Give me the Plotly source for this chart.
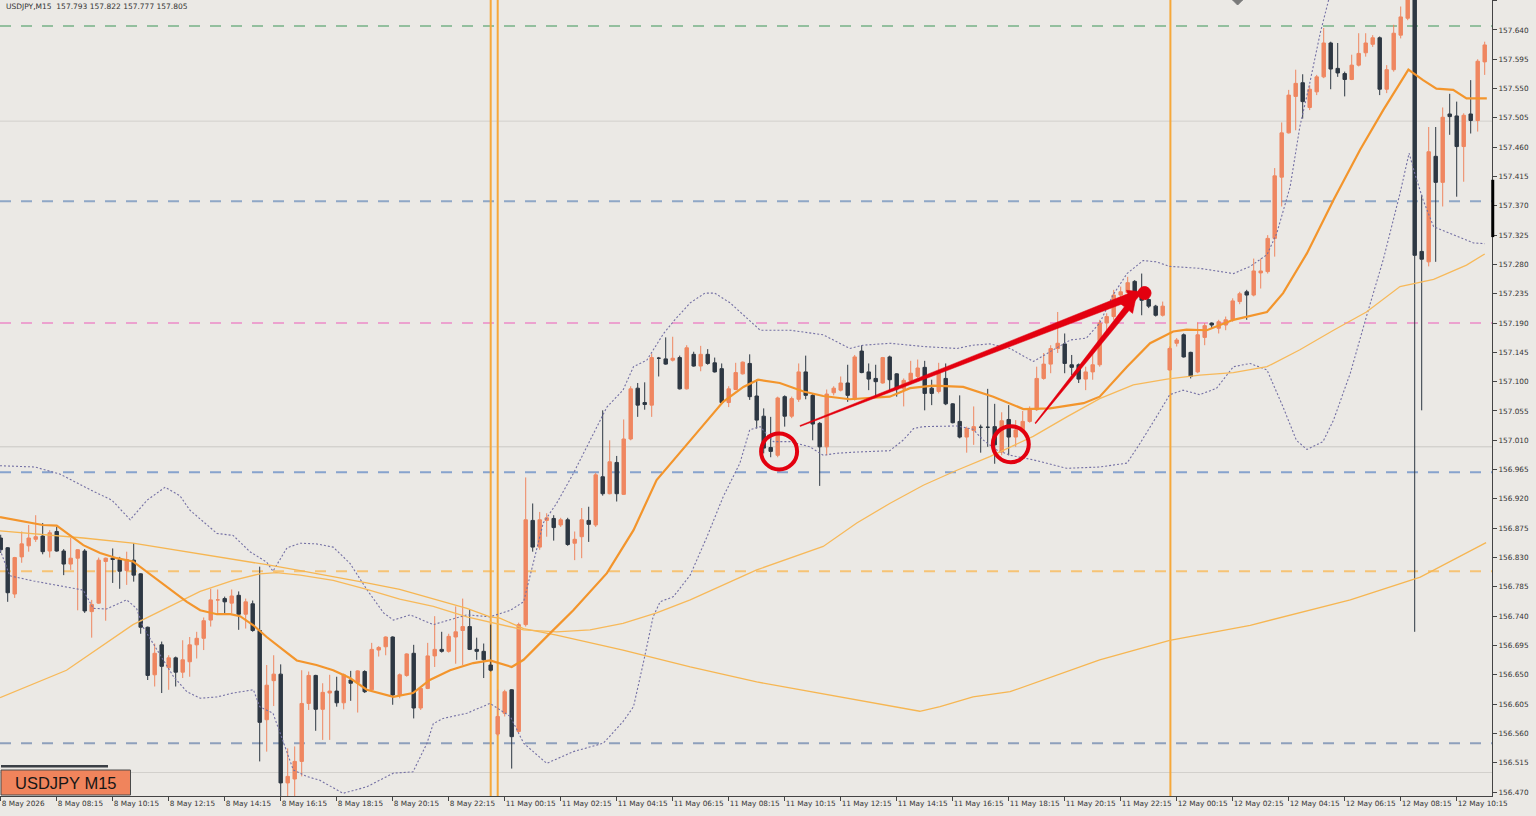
import plotly.graph_objects as go

# ---------------- data ----------------
bar_index = list(range(213))

opens = [
156.860, 156.845, 156.774, 156.831, 156.848, 156.858, 156.863, 156.840, 156.870, 156.840,
156.820, 156.829, 156.840, 156.747, 156.760, 156.824, 156.829, 156.827, 156.810, 156.826,
156.805, 156.723, 156.650, 156.696, 156.661, 156.676, 156.654, 156.670, 156.696, 156.706,
156.734, 156.765, 156.767, 156.760, 156.772, 156.743, 156.759, 156.718, 156.581, 156.641,
156.651, 156.484, 156.490, 156.517, 156.606, 156.649, 156.597, 156.622, 156.625, 156.607,
156.642, 156.638, 156.655, 156.627, 156.688, 156.693, 156.708, 156.619, 156.649, 156.683,
156.599, 156.629, 156.679, 156.689, 156.686, 156.708, 156.718, 156.724, 156.689, 156.686,
156.665, 156.559, 156.591, 156.627, 156.563, 156.727, 156.887, 156.846, 156.887, 156.890,
156.880, 156.888, 156.852, 156.862, 156.887, 156.880, 156.954, 156.928, 156.976, 156.927,
157.012, 157.090, 157.068, 157.064, 157.136, 157.135, 157.133, 157.137, 157.089, 157.142,
157.124, 157.142, 157.129, 157.120, 157.068, 157.088, 157.112, 157.128, 157.078, 157.047,
156.999, 156.987, 157.077, 157.047, 157.073, 157.115, 157.079, 157.036, 157.000, 157.083,
157.087, 157.098, 157.073, 157.147, 157.115, 157.105, 157.098, 157.138, 157.112, 157.089,
157.102, 157.108, 157.122, 157.090, 157.085, 157.105, 157.066, 157.039, 157.015, 157.025,
157.030, 157.030, 157.031, 156.992, 157.042, 157.015, 157.026, 157.039, 157.057, 157.105,
157.127, 157.151, 157.158, 157.126, 157.126, 157.104, 157.115, 157.126, 157.190, 157.200,
157.233, 157.237, 157.254, 157.238, 157.226, 157.216, 157.202, 157.118, 157.159, 157.172,
157.145, 157.115, 157.168, 157.190, 157.182, 157.187, 157.195, 157.223, 157.238, 157.233,
157.267, 157.269, 157.320, 157.414, 157.482, 157.538, 157.559, 157.521, 157.545, 157.568,
157.620, 157.581, 157.573, 157.564, 157.586, 157.605, 157.618, 157.628, 157.549, 157.579,
157.632, 157.658, 157.700, 157.300, 157.284, 157.446, 157.406, 157.511, 157.508, 157.461,
157.511, 157.501, 157.591]

highs = [
156.865, 156.846, 156.831, 156.870, 156.880, 156.895, 156.883, 156.872, 156.877, 156.843,
156.860, 156.843, 156.843, 156.765, 156.830, 156.830, 156.844, 156.831, 156.839, 156.852,
156.806, 156.724, 156.698, 156.701, 156.680, 156.678, 156.703, 156.708, 156.716, 156.738,
156.782, 156.781, 156.770, 156.781, 156.778, 156.767, 156.764, 156.816, 156.665, 156.680,
156.666, 156.537, 156.540, 156.657, 156.655, 156.650, 156.637, 156.650, 156.647, 156.652,
156.656, 156.657, 156.657, 156.699, 156.694, 156.709, 156.709, 156.652, 156.683, 156.696,
156.632, 156.699, 156.740, 156.716, 156.713, 156.755, 156.767, 156.750, 156.707, 156.698,
156.727, 156.627, 156.627, 156.628, 156.730, 156.953, 156.913, 156.900, 156.898, 156.895,
156.891, 156.891, 156.870, 156.906, 156.908, 156.960, 157.056, 157.010, 156.986, 157.042,
157.093, 157.098, 157.099, 157.143, 157.138, 157.168, 157.169, 157.140, 157.156, 157.146,
157.155, 157.150, 157.137, 157.128, 157.093, 157.129, 157.131, 157.142, 157.103, 157.059,
157.046, 157.077, 157.079, 157.077, 157.128, 157.140, 157.081, 157.038, 157.088, 157.093,
157.108, 157.126, 157.141, 157.156, 157.128, 157.126, 157.138, 157.140, 157.113, 157.105,
157.132, 157.134, 157.132, 157.103, 157.129, 157.128, 157.067, 157.079, 157.031, 157.062,
157.034, 157.089, 157.066, 157.053, 157.064, 157.041, 157.055, 157.062, 157.123, 157.144,
157.156, 157.207, 157.174, 157.141, 157.128, 157.123, 157.144, 157.195, 157.205, 157.241,
157.246, 157.261, 157.256, 157.266, 157.228, 157.218, 157.223, 157.154, 157.167, 157.174,
157.146, 157.191, 157.190, 157.191, 157.195, 157.200, 157.228, 157.238, 157.241, 157.289,
157.289, 157.325, 157.428, 157.498, 157.548, 157.579, 157.572, 157.555, 157.571, 157.643,
157.622, 157.620, 157.576, 157.602, 157.635, 157.635, 157.632, 157.630, 157.586, 157.648,
157.676, 157.705, 157.720, 157.387, 157.491, 157.491, 157.521, 157.542, 157.530, 157.512,
157.563, 157.595, 157.622]

lows = [
156.837, 156.762, 156.768, 156.822, 156.839, 156.854, 156.835, 156.830, 156.839, 156.803,
156.811, 156.749, 156.745, 156.707, 156.759, 156.733, 156.791, 156.782, 156.788, 156.793,
156.713, 156.642, 156.632, 156.622, 156.627, 156.632, 156.645, 156.647, 156.675, 156.688,
156.724, 156.744, 156.744, 156.744, 156.719, 156.721, 156.716, 156.517, 156.532, 156.602,
156.463, 156.463, 156.463, 156.494, 156.596, 156.564, 156.550, 156.550, 156.601, 156.597,
156.610, 156.592, 156.622, 156.624, 156.678, 156.680, 156.604, 156.614, 156.647, 156.583,
156.596, 156.628, 156.662, 156.684, 156.684, 156.667, 156.665, 156.688, 156.673, 156.645,
156.655, 156.556, 156.586, 156.506, 156.561, 156.724, 156.839, 156.842, 156.862, 156.856,
156.877, 156.848, 156.826, 156.829, 156.854, 156.877, 156.925, 156.927, 156.916, 156.926,
157.010, 157.046, 157.057, 157.046, 157.108, 157.126, 157.131, 157.088, 157.088, 157.123,
157.116, 157.126, 157.114, 157.066, 157.061, 157.087, 157.111, 157.072, 157.028, 156.990,
156.984, 156.984, 157.031, 157.044, 157.069, 157.073, 157.010, 156.940, 156.987, 157.079,
157.085, 157.069, 157.071, 157.113, 157.087, 157.078, 157.097, 157.085, 157.077, 157.062,
157.100, 157.105, 157.056, 157.064, 157.082, 157.064, 157.036, 157.013, 156.991, 157.003,
156.991, 157.000, 156.974, 156.987, 156.987, 157.000, 157.023, 157.037, 157.055, 157.103,
157.113, 157.144, 157.113, 157.110, 157.098, 157.087, 157.103, 157.123, 157.174, 157.195,
157.228, 157.236, 157.233, 157.202, 157.213, 157.200, 157.200, 157.117, 157.154, 157.137,
157.105, 157.113, 157.156, 157.182, 157.174, 157.179, 157.192, 157.219, 157.195, 157.231,
157.243, 157.266, 157.292, 157.369, 157.481, 157.486, 157.504, 157.517, 157.540, 157.566,
157.549, 157.568, 157.538, 157.563, 157.584, 157.599, 157.614, 157.540, 157.543, 157.576,
157.627, 157.655, 156.716, 157.056, 157.277, 157.284, 157.369, 157.479, 157.384, 157.407,
157.481, 157.484, 157.571]

closes = [
156.842, 156.776, 156.830, 156.851, 156.860, 156.862, 156.839, 156.868, 156.840, 156.820,
156.829, 156.842, 156.748, 156.758, 156.826, 156.829, 156.827, 156.809, 156.827, 156.803,
156.723, 156.649, 156.683, 156.663, 156.676, 156.654, 156.673, 156.696, 156.706, 156.733,
156.765, 156.765, 156.762, 156.771, 156.743, 156.762, 156.718, 156.577, 156.634, 156.651,
156.484, 156.494, 156.517, 156.606, 156.649, 156.597, 156.623, 156.625, 156.607, 156.650,
156.637, 156.656, 156.624, 156.689, 156.692, 156.708, 156.619, 156.650, 156.682, 156.599,
156.629, 156.679, 156.689, 156.686, 156.709, 156.716, 156.724, 156.689, 156.686, 156.673,
156.657, 156.586, 156.624, 156.555, 156.727, 156.888, 156.846, 156.888, 156.891, 156.876,
156.888, 156.850, 156.858, 156.888, 156.881, 156.957, 156.928, 156.977, 156.928, 157.012,
157.089, 157.064, 157.065, 157.137, 157.136, 157.127, 157.136, 157.089, 157.152, 157.124,
157.142, 157.128, 157.115, 157.068, 157.089, 157.114, 157.130, 157.077, 157.041, 156.998,
156.993, 157.075, 157.047, 157.074, 157.115, 157.079, 157.035, 157.000, 157.081, 157.090,
157.098, 157.079, 157.138, 157.114, 157.104, 157.100, 157.137, 157.103, 157.089, 157.102,
157.113, 157.121, 157.082, 157.082, 157.113, 157.066, 157.037, 157.015, 157.028, 157.031,
157.030, 157.030, 157.003, 157.040, 157.015, 157.026, 157.039, 157.058, 157.105, 157.127,
157.151, 157.159, 157.128, 157.122, 157.104, 157.115, 157.126, 157.190, 157.200, 157.233,
157.238, 157.252, 157.236, 157.225, 157.216, 157.202, 157.216, 157.151, 157.164, 157.138,
157.108, 157.172, 157.186, 157.187, 157.192, 157.195, 157.224, 157.235, 157.233, 157.270,
157.270, 157.320, 157.416, 157.482, 157.540, 157.558, 157.530, 157.549, 157.568, 157.620,
157.580, 157.574, 157.564, 157.586, 157.604, 157.620, 157.628, 157.549, 157.579, 157.635,
157.660, 157.690, 157.294, 157.288, 157.453, 157.406, 157.506, 157.507, 157.461, 157.509,
157.501, 157.592, 157.617]

tick_index = list(range(0, 209, 8))
tick_labels = [
    "8 May 2026", "8 May 08:15", "8 May 10:15", "8 May 12:15", "8 May 14:15",
    "8 May 16:15", "8 May 18:15", "8 May 20:15", "8 May 22:15",
    "11 May 00:15", "11 May 02:15", "11 May 04:15", "11 May 06:15", "11 May 08:15",
    "11 May 10:15", "11 May 12:15", "11 May 14:15", "11 May 16:15", "11 May 18:15",
    "11 May 20:15", "11 May 22:15",
    "12 May 00:15", "12 May 02:15", "12 May 04:15", "12 May 06:15", "12 May 08:15",
    "12 May 10:15"]

# thick moving average (Bollinger middle)
ma_fast_idx = [-0.1, 6, 8, 11.8, 14.2, 16.6, 18.9, 20.9, 23.7, 26.6, 28.5, 30.9, 32.8, 34.2, 36.1,
               38, 40.4, 42.3, 45.1, 47.5, 49.9, 52.3, 56.1, 58.9, 61.3, 64.2, 67.5, 69.9, 73, 74.7,
               78.5, 81.8, 86.6, 90.4, 93.7, 96.6, 99.4, 103.2, 106.1, 108.2, 111.3, 114.7, 117.5,
               121.3, 127, 129.9, 133.2, 137.5, 141.8, 146.1, 149.9, 154.7, 157, 160.9, 164.2, 167.5,
               169.4, 172.3, 176.1, 180.9, 183.2, 186.6, 190.4, 194.2, 197.5, 201.1, 203.2, 205.1,
               207.5, 209.4, 212.3]
ma_fast_val = [156.892, 156.880, 156.879, 156.849, 156.837, 156.829, 156.824, 156.808, 156.785,
               156.762, 156.749, 156.743, 156.743, 156.740, 156.726, 156.708, 156.688, 156.672,
               156.665, 156.657, 156.645, 156.627, 156.616, 156.622, 156.642, 156.657, 156.668,
               156.672, 156.662, 156.673, 156.714, 156.749, 156.806, 156.872, 156.949, 156.985,
               157.021, 157.069, 157.092, 157.103, 157.098, 157.085, 157.078, 157.073, 157.077,
               157.090, 157.094, 157.092, 157.077, 157.058, 157.059, 157.067, 157.077, 157.123,
               157.159, 157.177, 157.180, 157.179, 157.195, 157.207, 157.236, 157.297, 157.379,
               157.456, 157.517, 157.579, 157.563, 157.550, 157.548, 157.535, 157.535]

# thin moving average (medium period)
ma_mid_idx = [-0.1, 9.4, 18.9, 28.5, 33.2, 37, 39.4, 42.8, 47.5, 52.3, 57, 61.8, 66.6, 71.3, 74.7,
              79.4, 84.2, 88.9, 93.7, 98.5, 108, 117.5, 122.3, 127, 131.8, 136.6, 141.3, 147.5,
              152.3, 157, 161.8, 166.6, 171.3, 176.1, 180.9, 185.6, 190.4, 195.1, 199.9, 204.7,
              209.4, 212]
ma_mid_val = [156.615, 156.657, 156.727, 156.778, 156.795, 156.805, 156.807, 156.803, 156.795,
              156.781, 156.766, 156.755, 156.739, 156.728, 156.719, 156.716, 156.719, 156.729,
              156.745, 156.765, 156.811, 156.847, 156.883, 156.913, 156.941, 156.964, 156.985,
              157.016, 157.046, 157.074, 157.095, 157.104, 157.110, 157.114, 157.123, 157.149,
              157.179, 157.207, 157.246, 157.257, 157.279, 157.296]

# thin moving average (long period)
ma_slow_idx = [-0.1, 11.8, 18.9, 23.7, 35.6, 38, 42.8, 47.5, 52.3, 57, 61.8, 66.6, 69.9, 71.3, 74.7,
               79.4, 88.9, 98.5, 108, 117.5, 127, 131.3, 134.2, 138.9, 144.2, 157, 167, 178.5,
               192.8, 202.8, 212.2]
ma_slow_val = [156.871, 156.860, 156.852, 156.844, 156.824, 156.819, 156.810, 156.801, 156.791,
               156.781, 156.766, 156.752, 156.739, 156.737, 156.721, 156.711, 156.688, 156.662,
               156.639, 156.621, 156.603, 156.594, 156.601, 156.616, 156.624, 156.673, 156.703,
               156.726, 156.765, 156.800, 156.853]

# Bollinger bands
bb_upper_idx = [-0.1, 4.9, 8.5, 12.8, 15.9, 18.5, 20.9, 23.5, 25.6, 27, 30.9, 33.2, 35.6, 38, 38.9,
                40.9, 42.8, 45.1, 47.5, 49.9, 52.3, 54.7, 56.1, 58.5, 61.8, 64.2, 66.6, 69.9, 72.8,
                74.7, 76.1, 77.5, 79.4, 81.8, 84.2, 86.6, 88.9, 90.4, 92.3, 94.7, 96.3, 98.5, 100.6,
                102, 104.2, 106.3, 108.5, 112.8, 117.5, 121.3, 123.2, 127, 129.9, 131.8, 136.6,
                138.9, 141.3, 144.2, 147.5, 149.9, 152.8, 155.1, 157, 158.9, 160.9, 163.2, 165.1,
                167, 171.3, 176.1, 178.5, 180.9, 182.3, 184.2, 185.6, 187, 188.5, 189.7, 191.3]
bb_upper_val = [156.971, 156.969, 156.958, 156.934, 156.918, 156.888, 156.918, 156.938, 156.925,
                156.903, 156.867, 156.864, 156.839, 156.823, 156.809, 156.845, 156.852, 156.851,
                156.846, 156.821, 156.781, 156.745, 156.734, 156.742, 156.727, 156.734, 156.742,
                156.739, 156.749, 156.762, 156.821, 156.883, 156.913, 156.959, 157.010, 157.061,
                157.087, 157.123, 157.133, 157.174, 157.195, 157.221, 157.236, 157.236, 157.221,
                157.201, 157.179, 157.179, 157.172, 157.151, 157.156, 157.159, 157.156, 157.154,
                157.151, 157.156, 157.158, 157.151, 157.131, 157.146, 157.164, 157.167, 157.190,
                157.233, 157.266, 157.286, 157.284, 157.277, 157.274, 157.266, 157.277, 157.295,
                157.328, 157.399, 157.492, 157.558, 157.635, 157.686, 157.747]
bb_lower_idx = [-0.1, 1.3, 4.7, 8.5, 11.8, 13.2, 15.1, 18, 19.4, 20.4, 22.3, 24.7, 26.6, 28.5, 30.9,
                33.2, 36.1, 37, 38.9, 40.4, 41.8, 43.7, 45.6, 48.9, 52.3, 56.1, 58.9, 60.9, 61.8,
                63.2, 66.6, 69.9, 72.8, 74.7, 78, 81.8, 86.1, 88.9, 90.4, 91.8, 93.2, 94.2, 96.1,
                98.5, 100.9, 103.2, 105.6, 107, 108.5, 110.4, 112.8, 115.6, 117.5, 119.4, 122.3,
                127, 128.9, 130.4, 131.8, 136.6, 138.9, 140.4, 142.3, 144.2, 147.5, 152.3, 157,
                160.9, 162.8, 165.1, 167, 168.9, 171.3, 173.7, 176.1, 178.5, 180.9, 183.2, 185.1,
                186.6, 188.9, 190.4, 192.8, 195.1, 197.5, 199.9, 201.2, 202, 203.2, 204.7, 207,
                210.4, 212]
bb_lower_val = [156.842, 156.802, 156.794, 156.786, 156.780, 156.752, 156.751, 156.765, 156.752,
                156.722, 156.688, 156.647, 156.624, 156.614, 156.616, 156.622, 156.627, 156.601,
                156.591, 156.545, 156.504, 156.494, 156.488, 156.468, 156.478, 156.499, 156.501,
                156.545, 156.575, 156.583, 156.591, 156.606, 156.586, 156.545, 156.514, 156.532,
                156.545, 156.578, 156.601, 156.668, 156.739, 156.762, 156.770, 156.803, 156.862,
                156.923, 156.975, 157.026, 157.031, 157.008, 157.008, 157.000, 156.987, 156.990,
                156.992, 156.994, 157.010, 157.028, 157.031, 157.032, 157.027, 157.010, 156.995,
                156.987, 156.980, 156.967, 156.969, 156.975, 157.006, 157.046, 157.080, 157.087,
                157.080, 157.090, 157.123, 157.128, 157.118, 157.061, 157.010, 156.996, 157.008,
                157.041, 157.113, 157.200, 157.287, 157.389, 157.451, 157.420, 157.379, 157.338,
                157.328, 157.313, 157.312]

# horizontal price levels
level_prices = [157.646, 157.500, 157.377, 157.190, 157.000, 156.961, 156.809, 156.545, 156.500]
level_colors = ["#93bf9e", "#d2d0cc", "#8fa7c6", "#eca2cf", "#cac8c4", "#87a3cd", "#f6c375",
                "#8ea0bc", "#d2d0cc"]
level_dashes = ["11px,10px", "solid", "11px,10px", "11px,10px", "solid", "11px,10px",
                "11px,10px", "11px,10px", "solid"]

# vertical session separators (bar index)
session_lines = [70, 71, 167.1]

# hand-drawn marks: circles (bar, price) and arrows (start -> end)
circle_marks = [(111.2, 156.993), (144.3, 157.004)]
arrow_marks = [((114.2, 157.032), (163.2, 157.238), 1.0, 7.5),
               ((147.8, 157.036), (162.2, 157.230), 1.0, 6.0)]
arrow_dot = (163.4, 157.236)
axis_marker = (157.410, 157.322)

header_text = "USDJPY,M15\u00a0\u00a0157.793 157.822 157.777 157.805"
badge_text = "USDJPY M15"

# ---------------- layout constants ----------------
W, H = 1536, 816
ML, MR, MT, MB = 0, 44, 0, 20
PW, PH = W - ML - MR, H - MT - MB
X_RANGE = [-0.1, -0.1 + PW / 7.0]
Y_RANGE = [156.4639, 157.686]
SX = PW / (X_RANGE[1] - X_RANGE[0])   # px per bar
SY = PH / (Y_RANGE[1] - Y_RANGE[0])   # px per price unit

BG = "#ebe9e5"
BULL = "#ef8760"
BEAR = "#2e3843"
RED = "#e3000f"
FONT = "DejaVu Sans"

fig = go.Figure()

fig.add_trace(go.Candlestick(
    x=bar_index, open=opens, high=highs, low=lows, close=closes,
    increasing=dict(line=dict(color=BULL, width=1), fillcolor=BULL),
    decreasing=dict(line=dict(color=BEAR, width=1), fillcolor=BEAR),
    whiskerwidth=0, hoverinfo="skip", showlegend=False))

band_style = dict(color="#7470a4", width=1.1, dash="2px,2px")
fig.add_trace(go.Scatter(x=bb_upper_idx, y=bb_upper_val, mode="lines", line=band_style,
                         hoverinfo="skip", showlegend=False))
fig.add_trace(go.Scatter(x=bb_lower_idx, y=bb_lower_val, mode="lines", line=band_style,
                         hoverinfo="skip", showlegend=False))
fig.add_trace(go.Scatter(x=ma_slow_idx, y=ma_slow_val, mode="lines",
                         line=dict(color="#f6b652", width=1.3), hoverinfo="skip", showlegend=False))
fig.add_trace(go.Scatter(x=ma_mid_idx, y=ma_mid_val, mode="lines",
                         line=dict(color="#f7b95a", width=1.3), hoverinfo="skip", showlegend=False))
fig.add_trace(go.Scatter(x=ma_fast_idx, y=ma_fast_val, mode="lines",
                         line=dict(color="#f3952c", width=2.2), hoverinfo="skip", showlegend=False))

shapes = []
for p, c, d in zip(level_prices, level_colors, level_dashes):
    shapes.append(dict(type="line", xref="paper", yref="y", x0=0, x1=1, y0=p, y1=p,
                       line=dict(color=c, width=2 if d != "solid" else 1, dash=d), layer="below"))
for v in session_lines:
    shapes.append(dict(type="line", xref="x", yref="paper", x0=v, x1=v, y0=0, y1=1,
                       line=dict(color="#f6a83a", width=2), layer="below"))

# circles
R_PX = 18
for cx, cy in circle_marks:
    shapes.append(dict(type="circle", xref="x", yref="y",
                       x0=cx - R_PX / SX, x1=cx + R_PX / SX, y0=cy - R_PX / SY, y1=cy + R_PX / SY,
                       line=dict(color=RED, width=4)))


def tapered_arrow(start, end, w0, w1, head_len=15, head_w=7.5):
    sx, sy = start[0] * SX, -start[1] * SY
    ex, ey = end[0] * SX, -end[1] * SY
    dx, dy = ex - sx, ey - sy
    ln = (dx * dx + dy * dy) ** 0.5
    ux, uy = dx / ln, dy / ln
    nx, ny = -uy, ux
    bx, by = ex - ux * head_len, ey - uy * head_len
    pts = [(sx + nx * w0 / 2, sy + ny * w0 / 2), (bx + nx * w1 / 2, by + ny * w1 / 2),
           (bx + nx * head_w, by + ny * head_w), (ex, ey),
           (bx - nx * head_w, by - ny * head_w), (bx - nx * w1 / 2, by - ny * w1 / 2),
           (sx - nx * w0 / 2, sy - ny * w0 / 2)]
    path = "M " + " L ".join(f"{px / SX:.4f},{-py / SY:.5f}" for px, py in pts) + " Z"
    return dict(type="path", xref="x", yref="y", path=path, fillcolor=RED,
                line=dict(color=RED, width=0.5))


for st, en, w0, w1 in arrow_marks:
    shapes.append(tapered_arrow(st, en, w0, w1))

DOT = 6.5
shapes.append(dict(type="circle", xref="x", yref="y",
                   x0=arrow_dot[0] - DOT / SX, x1=arrow_dot[0] + DOT / SX,
                   y0=arrow_dot[1] - DOT / SY, y1=arrow_dot[1] + DOT / SY,
                   fillcolor=RED, line=dict(color=RED, width=1)))

# black marker on the price axis
shapes.append(dict(type="line", xref="paper", yref="y", x0=1.0005, x1=1.0005,
                   y0=axis_marker[0], y1=axis_marker[1], line=dict(color="#000000", width=3)))

# small grey marker at the top edge
mx = 176.7
shapes.append(dict(type="path", xref="x", yref="paper",
                   path=f"M {mx - 5 / SX},1 L {mx},{1 - 5 / PH} L {mx + 5 / SX},1 Z",
                   fillcolor="#7a7a7a", line=dict(color="#7a7a7a", width=1)))

# symbol badge bottom-left
shapes.append(dict(type="rect", xref="paper", yref="paper",
                   x0=1 / PW, x1=108 / PW, y0=1 - 767.5 / PH, y1=1 - 765 / PH,
                   fillcolor="#3a3f45", line=dict(width=0)))
shapes.append(dict(type="rect", xref="paper", yref="paper",
                   x0=1 / PW, x1=130.5 / PW, y0=1 - 795 / PH, y1=1 - 770 / PH,
                   fillcolor="#f0845c", line=dict(color="#4a4a4a", width=1)))

annotations = [
    dict(text=header_text, xref="paper", yref="paper", x=4 / PW, y=1 - 7 / PH,
         xanchor="left", yanchor="middle", showarrow=False,
         font=dict(family=FONT, size=7.5, color="#333333")),
    dict(text=badge_text, xref="paper", yref="paper", x=65 / PW, y=1 - 782.5 / PH,
         xanchor="center", yanchor="middle", showarrow=False,
         font=dict(family="Liberation Sans", size=16.5, color="#161616")),
]

fig.update_layout(
    width=W, height=H, margin=dict(l=ML, r=MR, t=MT, b=MB, pad=0, autoexpand=False),
    paper_bgcolor=BG, plot_bgcolor=BG, showlegend=False, hovermode=False,
    shapes=shapes, annotations=annotations,
    xaxis=dict(range=X_RANGE, rangeslider=dict(visible=False), showgrid=False, zeroline=False,
               automargin=False, showline=True, linecolor="#444444", linewidth=1,
               ticks="outside", ticklen=4, tickcolor="#444444", tickwidth=1,
               tickmode="array", tickvals=tick_index, ticktext=tick_labels,
               tickangle=0, ticklabelposition="outside right", ticklabeloverflow="allow",
               tickfont=dict(family=FONT, size=7.3, color="#333333")),
    yaxis=dict(range=Y_RANGE, side="right", showgrid=False, zeroline=False,
               automargin=False, showline=True, linecolor="#444444", linewidth=1,
               ticks="outside", ticklen=4, tickcolor="#444444", tickwidth=1,
               tick0=156.470, dtick=0.045, tickformat=".3f",
               tickfont=dict(family=FONT, size=7.3, color="#333333")),
)

fig.write_html("out.html")
